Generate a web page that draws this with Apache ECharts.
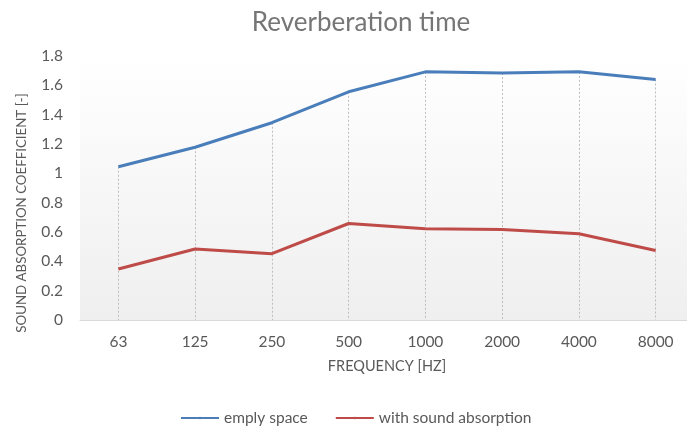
<!DOCTYPE html>
<html>
<head>
<meta charset="utf-8">
<script src="https://cdn.jsdelivr.net/npm/echarts@6/dist/echarts.min.js"></script>
<style>
  html, body { margin: 0; padding: 0; background: #fff; }
  #chart { width: 687px; height: 428px; }
</style>
</head>
<body>
<div id="chart"></div>
<script>
const frequencies = ['63', '125', '250', '500', '1000', '2000', '4000', '8000'];
const emptySpace = [1.045, 1.178, 1.345, 1.556, 1.692, 1.684, 1.692, 1.64];
const withAbsorption = [0.348, 0.484, 0.452, 0.658, 0.622, 0.617, 0.588, 0.474];
const yTicks = [0, 0.2, 0.4, 0.6, 0.8, 1, 1.2, 1.4, 1.6, 1.8];

const font = 'Lato, "Open Sans", sans-serif';

// drop lines from the highest point of each category down to the axis
const dropLines = frequencies.map((f, i) => [
  { coord: [f, Math.max(emptySpace[i], withAbsorption[i])] },
  { coord: [f, 0] },
]);

const chartDom = document.getElementById('chart');
const myChart = echarts.init(chartDom);

const options = {
  animation: false,
  title: {
    text: 'Reverberation time',
    left: 356,
    textAlign: 'center',
    top: 5,
    textStyle: { fontFamily: font, fontSize: 26, fontWeight: 'normal', color: '#767676' },
  },
  legend: {
    bottom: -3,
    left: 175,
    itemWidth: 38,
    itemHeight: 3,
    itemGap: 27,
    textStyle: { fontFamily: font, fontSize: 15.5, color: '#595959' },
    data: ['emply space', 'with sound absorption'],
  },
  grid: {
    left: 80,
    width: 614,
    top: 56,
    height: 264,
    outerBoundsMode: 'none',
    show: true,
    borderWidth: 0,
    backgroundColor: new echarts.graphic.LinearGradient(0, 0, 0, 1, [
      { offset: 0, color: '#ffffff' },
      { offset: 1, color: '#efefef' },
    ]),
  },
  xAxis: {
    type: 'category',
    data: frequencies,
    boundaryGap: true,
    name: 'FREQUENCY [HZ]',
    nameLocation: 'middle',
    nameGap: 39,
    nameTextStyle: { fontFamily: font, fontSize: 14.5, color: '#595959' },
    axisLine: { lineStyle: { color: '#d9d9d9', width: 1 } },
    axisTick: { show: false },
    axisLabel: { fontFamily: font, fontSize: 15.5, color: '#595959', margin: 14 },
    splitLine: { show: false },
  },
  yAxis: {
    type: 'value',
    min: 0,
    max: 1.8,
    interval: 0.2,
    name: 'SOUND ABSORPTION COEFFICIENT [-]',
    nameLocation: 'middle',
    nameGap: 52,
    nameTextStyle: { fontFamily: font, fontSize: 13.3, color: '#595959', padding: [0, 50, 0, 0] },
    axisLine: { show: false },
    axisTick: { show: false },
    splitLine: { show: false },
    axisLabel: {
      fontFamily: font,
      fontSize: 15.5,
      color: '#595959',
      margin: 17,
      formatter: (v) => (yTicks.includes(Math.round(v * 10) / 10) ? String(Math.round(v * 10) / 10) : ''),
    },
  },
  series: [
    {
      name: 'emply space',
      type: 'line',
      data: emptySpace,
      color: '#4a7ebb',
      symbol: 'none',
      lineStyle: { width: 3, color: '#4a7ebb' },
      z: 3,
      markLine: {
        silent: true,
        symbol: ['none', 'none'],
        label: { show: false },
        lineStyle: { color: '#bdbdbd', width: 1, type: [2, 2] },
        data: dropLines,
        z: 1,
      },
    },
    {
      name: 'with sound absorption',
      type: 'line',
      data: withAbsorption,
      color: '#be4b48',
      symbol: 'none',
      lineStyle: { width: 3, color: '#be4b48' },
      z: 3,
    },
  ],
};

myChart.setOption(options, true);
</script>
</body>
</html>
